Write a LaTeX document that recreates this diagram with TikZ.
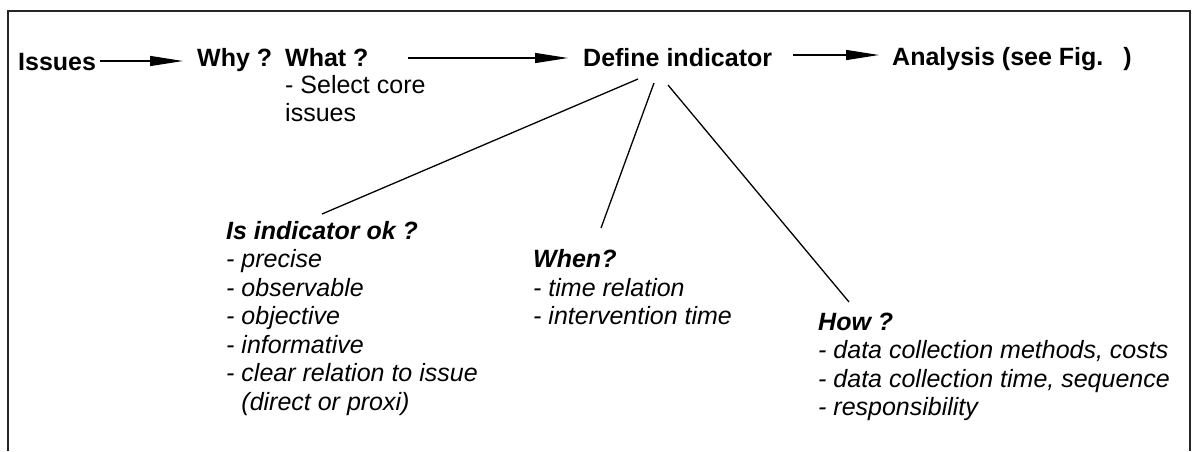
\documentclass[tikz,border=0pt]{standalone}
\usepackage{fontspec}
\setmainfont{Liberation Sans}
\usetikzlibrary{arrows.meta}
\begin{document}
\begin{tikzpicture}[x=1pt,y=-1pt,
  txt/.style={anchor=base west, inner sep=0pt, font=\fontsize{25}{28.5}\selectfont},
  ttl/.style={txt, font=\fontsize{25}{28.5}\selectfont\bfseries},
  itl/.style={txt, font=\fontsize{25}{28.5}\selectfont\itshape},
  bit/.style={txt, font=\fontsize{25}{28.5}\selectfont\bfseries\itshape},
  arr/.style={line width=1.3pt, -{Triangle[length=33pt,width=10pt]}},
  link/.style={line width=1.3pt},
  frame/.style={line width=1.2pt, draw=black!85}
]
\useasboundingbox (0,0) rectangle (1194,451);

% open frame
\draw[frame] (8,451) -- (8,11) -- (1190,11) -- (1190,451);

% top row
\node[ttl] (issues) at (18,70) {Issues};
\node[ttl] (why) at (197,66) {Why ?};
\node[ttl] (what) at (285,66) {What ?};
\node[txt] (sel1) at (285,93) {- Select core};
\node[txt] (sel2) at (285,121.5) {issues};
\node[ttl] (define) at (583,66) {Define indicator};
\node[ttl] (analysis) at (892,65) {Analysis (see Fig.\hspace{20pt})};

% arrow end points
\coordinate (a1s) at (100,61);  \coordinate (a1e) at (183,61);
\coordinate (a2s) at (408,58);  \coordinate (a2e) at (568,58);
\coordinate (a3s) at (793,55);  \coordinate (a3e) at (879,55);
\draw[arr] (a1s) -- (a1e);
\draw[arr] (a2s) -- (a2e);
\draw[arr] (a3s) -- (a3e);

% "Is indicator ok ?" block
\node[bit] (okT) at (226,239) {Is indicator ok ?};
\foreach [count=\i] \t in {precise, observable, objective, informative, clear relation to issue}
  \node[itl] (ok\i) at (226,239+28.5*\i) {- \t};
\node[itl] (ok6) at (226,410) {\phantom{- }(direct or proxi)};

% "When?" block
\node[bit] (whenT) at (533,267) {When?};
\node[itl] (when1) at (533,296) {- time relation};
\node[itl] (when2) at (533,324.5) {- intervention time};

% "How ?" block
\node[bit] (howT) at (818,330) {How ?};
\node[itl] (how1) at (818,358.5) {- data collection methods, costs};
\node[itl] (how2) at (818,387) {- data collection time, sequence};
\node[itl] (how3) at (818,415.5) {- responsibility};

% links from the indicator to the three questions
\coordinate (d1) at (638,79);  \coordinate (k1) at (322,214);
\coordinate (d2) at (654,83);  \coordinate (k2) at (601,228);
\coordinate (d3) at (668,85);  \coordinate (k3) at (849,302);
\draw[link] (d1) -- (k1);
\draw[link] (d2) -- (k2);
\draw[link] (d3) -- (k3);
\end{tikzpicture}
\end{document}
